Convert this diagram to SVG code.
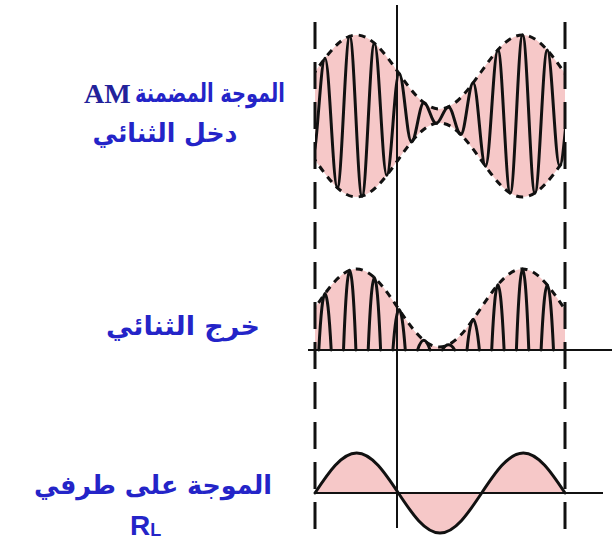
<svg xmlns="http://www.w3.org/2000/svg" width="612" height="547" viewBox="0 0 612 547">
<style>
.ar{font-family:"DejaVu Sans","Noto Sans",sans-serif;font-weight:bold;fill:#2424c8;text-anchor:middle;font-size:26px}
.wave{fill:none;stroke:#111;stroke-width:3;stroke-linejoin:round;stroke-linecap:round}
.env{fill:none;stroke:#111;stroke-width:3;stroke-dasharray:7 6}
.fill{fill:#f6c8c8;stroke:none}
.axis{stroke:#111;stroke-width:2;fill:none}
.vdash{stroke:#111;stroke-width:3;stroke-dasharray:27 13;fill:none}
</style>
<defs>
<clipPath id="win"><rect x="315" y="0" width="250" height="547"/></clipPath>
</defs>
<rect width="612" height="547" fill="#fff"/>

<g id="label-am">
<text class="ar" x="210" y="102" textLength="150" lengthAdjust="spacingAndGlyphs">الموجة المضمنة</text>
<text x="84" y="103" font-family="Liberation Serif,serif" font-weight="bold" font-size="28" fill="#22229a">AM</text>
<text class="ar" x="165" y="142" textLength="145" lengthAdjust="spacingAndGlyphs">دخل الثنائي</text>
</g>
<g id="label-out">
<text class="ar" x="183" y="335" textLength="154" lengthAdjust="spacingAndGlyphs">خرج الثنائي</text>
</g>
<g id="label-rl">
<text class="ar" x="153" y="494" textLength="238" lengthAdjust="spacingAndGlyphs">الموجة على طرفي</text>
<text x="130" y="535" font-family="Liberation Sans,sans-serif" font-weight="bold" font-size="28" fill="#2424c8">R<tspan font-size="18" dy="1">L</tspan></text>
</g>

<g id="am-wave" clip-path="url(#win)">
<path class="fill" d="M273.5,109 C303.7,109 326.3,35 356.5,35 S409.3,109 439.5,109 S492.3,35 522.5,35 S575.3,109 605.5,109 L605.5,123 C575.3,123 552.7,197 522.5,197 C492.3,197 469.7,123 439.5,123 C409.3,123 386.7,197 356.5,197 C326.3,197 303.7,123 273.5,123 Z"/>
<path class="wave" d="M312.65,156.7 C317.15,156.7 320.5,58.3 325,58.3 S332.85,187.7 337.35,187.7 S345.2,36.2 349.7,36.2 S357.55,196.2 362.05,196.2 S369.9,43.2 374.4,43.2 S382.25,175.3 386.75,175.3 S394.6,73.5 399.1,73.5 S406.95,142 411.45,142 S419.3,102.7 423.8,102.7 S431.65,123.3 436.15,123.3 S444,106.9 448.5,106.9 S456.35,134.4 460.85,134.4 S468.7,82.8 473.2,82.8 S481.05,166.3 485.55,166.3 S493.4,49.9 497.9,49.9 S505.75,193.1 510.25,193.1 S518.1,35 522.6,35 S530.45,193 534.95,193 S542.8,50.1 547.3,50.1 S555.15,166.1 559.65,166.1 S567.5,83 572,83"/>
<path class="env" d="M273.5,109 C303.7,109 326.3,35 356.5,35 S409.3,109 439.5,109 S492.3,35 522.5,35 S575.3,109 605.5,109"/>
<path class="env" d="M273.5,123 C303.7,123 326.3,197 356.5,197 S409.3,123 439.5,123 S492.3,197 522.5,197 S575.3,123 605.5,123"/>
</g>

<g id="rectified-wave" clip-path="url(#win)">
<path class="fill" d="M273.5,347 C303.7,347 326.3,269 356.5,269 S409.3,347 439.5,347 S492.3,269 522.5,269 S575.3,347 605.5,347 L605.5,350 L273.5,350 Z"/>
<path class="wave" d="M318.8,350 Q325,237.2 331.2,350 M343.5,350 Q349.7,190.6 355.9,350 M368.2,350 Q374.4,205.2 380.6,350 M392.9,350 Q399.1,269.2 405.3,350 M417.6,350 Q423.8,330.6 430,350 M442.3,350 Q448.5,339.6 454.7,350 M467,350 Q473.2,288.6 479.4,350 M491.7,350 Q497.9,219.4 504.1,350 M516.4,350 Q522.6,188 528.8,350 M541.1,350 Q547.3,220 553.5,350"/>
<path class="env" d="M273.5,347 C303.7,347 326.3,269 356.5,269 S409.3,347 439.5,347 S492.3,269 522.5,269 S575.3,347 605.5,347"/>
</g>

<g id="rl-wave">
<path class="fill" d="M315,493 C328.59,472.51 341.66,453 356.67,453 S384.74,472.51 398.33,493 S424.99,533 440,533 S468.08,513.49 481.67,493 S508.32,453 523.33,453 S551.41,472.51 565,493 Z"/>
<path class="wave" d="M315,493 C328.59,472.51 341.66,453 356.67,453 S384.74,472.51 398.33,493 S424.99,533 440,533 S468.08,513.49 481.67,493 S508.32,453 523.33,453 S551.41,472.51 565,493"/>
</g>

<g id="connectors">
<line class="axis" x1="308" y1="350" x2="612" y2="350"/>
<line class="axis" x1="315" y1="493" x2="603" y2="493"/>
<line class="axis" x1="397" y1="5" x2="397" y2="528"/>
<line class="vdash" x1="315" y1="22" x2="315" y2="542"/>
<line class="vdash" x1="565" y1="22" x2="565" y2="542"/>
</g>
</svg>
